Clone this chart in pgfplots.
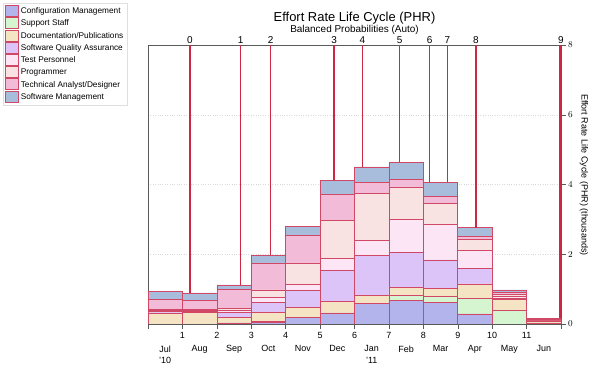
\documentclass[border=0pt]{standalone}
\usepackage{fontspec}
\setmainfont{Liberation Sans}
\usepackage{pgfplots}
\usepackage{pgfplotstable}
\pgfplotsset{compat=1.18}
\definecolor{cmC}{RGB}{180,180,236}
\definecolor{cmS}{RGB}{212,245,208}
\definecolor{cmD}{RGB}{245,228,196}
\definecolor{cmQ}{RGB}{220,196,248}
\definecolor{cmT}{RGB}{252,230,246}
\definecolor{cmP}{RGB}{249,226,226}
\definecolor{cmA}{RGB}{242,188,216}
\definecolor{cmM}{RGB}{168,188,220}
\definecolor{edge}{RGB}{208,72,102}
\definecolor{mile}{RGB}{205,40,65}
\definecolor{axgray}{RGB}{90,90,90}
\pgfplotstableread{
x    Config Support Doc  SQA   Test  Prog  Tech  SwMgmt
0.5  0      0       0.32 0.03  0.03  0.03  0.29  0.23
1.5  0      0       0.34 0.03  0.02  0.03  0.26  0.21
2.5  0.03   0       0.15 0.16  0.05  0.06  0.55  0.12
3.5  0.04   0.04    0.26 0.27  0.15  0.22  0.77  0.22
4.5  0.19   0       0.29 0.48  0.19  0.60  0.78  0.27
5.5  0.32   0       0.32 0.89  0.35  1.10  0.745 0.40
6.5  0.60   0       0.22 1.15  0.43  1.355 0.30  0.45
7.5  0.67   0.16    0.22 1.00  0.955 0.925 0.22  0.475
8.5  0.61   0.18    0.22 0.83  1.01  0.61  0.20  0.40
9.5  0.29   0.46    0.40 0.45  0.51  0.31  0.095 0.25
10.5 0      0.40    0.30 0.045 0.04  0.06  0.065 0.07
11.5 0      0.02    0.07 0.02  0.02  0.02  0.01  0.01
}\datatable
\begin{document}
\begin{tikzpicture}
\path[use as bounding box] (0,0) rectangle (600bp,366bp);
\begin{axis}[
  at={(148bp,42bp)}, anchor=south west, scale only axis,
  width=413bp, height=279bp,
  xmin=0, xmax=12, ymin=0, ymax=8,
  ybar stacked, bar width=1,
  xtick={0,1,2,3,4,5,6,7,8,9,10,11,12},
  xticklabels={,1,2,3,4,5,6,7,8,9,10,11,},
  extra x ticks={0.5,1.5,2.5,3.5,4.5,5.5,6.5,7.5,8.5,9.5,10.5,11.5},
  extra x tick labels={Jul\\'10,Aug,Sep,Oct,Nov,Dec,Jan\\'11,Feb,Mar,Apr,May,Jun},
  extra x tick style={grid=none, major tick length=0pt, xticklabel style={yshift=-18bp, anchor=north}},
  xtick pos=left,
  ytick={0,2,4,6,8}, ytick pos=right, yticklabel pos=right,
  tick align=outside, major tick length=5bp,
  tick style={axgray, line width=0.5pt},
  xticklabel style={font=\fontsize{9}{11.5}\selectfont, align=center, inner sep=1.5bp, yshift=-2bp},
  yticklabel style={font=\fontsize{9}{11}\selectfont, inner sep=2bp},
  ymajorgrids, grid style={dotted, gray!30},
  axis line style={axgray, line width=0.7pt},
  legend style={at={(rel axis cs:-0.351,1.1505)}, anchor=north west,
    draw=gray!25, font=\fontsize{8.3}{10}\selectfont, row sep=0.2bp,
    inner sep=2bp, cells={anchor=west}},
  legend image code/.code={\draw[#1, line width=0.6pt] (0bp,-5bp) rectangle (13bp,6bp);},
  legend cell align=left,
]
\addplot[fill=cmC, draw=edge, line width=0.6pt] table[x=x, y=Config] {\datatable};
\addplot[fill=cmS, draw=edge, line width=0.6pt] table[x=x, y=Support] {\datatable};
\addplot[fill=cmD, draw=edge, line width=0.6pt] table[x=x, y=Doc] {\datatable};
\addplot[fill=cmQ, draw=edge, line width=0.6pt] table[x=x, y=SQA] {\datatable};
\addplot[fill=cmT, draw=edge, line width=0.6pt] table[x=x, y=Test] {\datatable};
\addplot[fill=cmP, draw=edge, line width=0.6pt] table[x=x, y=Prog] {\datatable};
\addplot[fill=cmA, draw=edge, line width=0.6pt] table[x=x, y=Tech] {\datatable};
\addplot[fill=cmM, draw=edge, line width=0.6pt] table[x=x, y=SwMgmt] {\datatable};
\legend{Configuration Management,Support Staff,Documentation/Publications,Software Quality Assurance,Test Personnel,Programmer,Technical Analyst/Designer,Software Management}
\end{axis}
\begin{axis}[
  at={(148bp,42bp)}, anchor=south west, scale only axis,
  width=413bp, height=279bp,
  xmin=0, xmax=12, ymin=0, ymax=8, clip=false,
  axis x line*=top, axis y line=none, axis line style={draw=none},
  xtick={1.22,2.69,3.56,5.41,6.23,7.31,8.18,8.70,9.53,12},
  xticklabels={0,1,2,3,4,5,6,7,8,9},
  major tick length=0pt,
  xticklabel style={font=\fontsize{10}{12}\selectfont, inner sep=1.5bp},
]
\addplot[color=mile, line width=1.5pt] coordinates {(1.22,0.89) (1.22,8)};
\addplot[color=mile, line width=1.5pt] coordinates {(2.69,1.12) (2.69,8)};
\addplot[color=mile, line width=1.5pt] coordinates {(3.56,1.97) (3.56,8)};
\addplot[color=mile, line width=1.5pt] coordinates {(5.41,4.13) (5.41,8)};
\addplot[color=mile, line width=1.5pt] coordinates {(6.23,4.49) (6.23,8)};
\addplot[color=mile, line width=1.5pt] coordinates {(7.31,4.64) (7.31,8)};
\addplot[color=mile, line width=1.5pt] coordinates {(8.18,4.06) (8.18,8)};
\addplot[color=mile, line width=1.5pt] coordinates {(8.70,4.06) (8.70,8)};
\addplot[color=mile, line width=1.5pt] coordinates {(9.53,2.76) (9.53,8)};
\addplot[color=mile, line width=1.5pt] coordinates {(11.97,0.17) (11.97,8)};
\end{axis}
\node[font=\fontsize{13}{15}\selectfont] at (354.5bp,348bp) {Effort Rate Life Cycle (PHR)};
\node[font=\fontsize{10}{12}\selectfont] at (354.5bp,336bp) {Balanced Probabilities (Auto)};
\node[rotate=-90, font=\fontsize{9}{11}\selectfont] at (584bp,191bp) {Effort Rate Life Cycle (PHR) (thousands)};
\end{tikzpicture}
\end{document}
